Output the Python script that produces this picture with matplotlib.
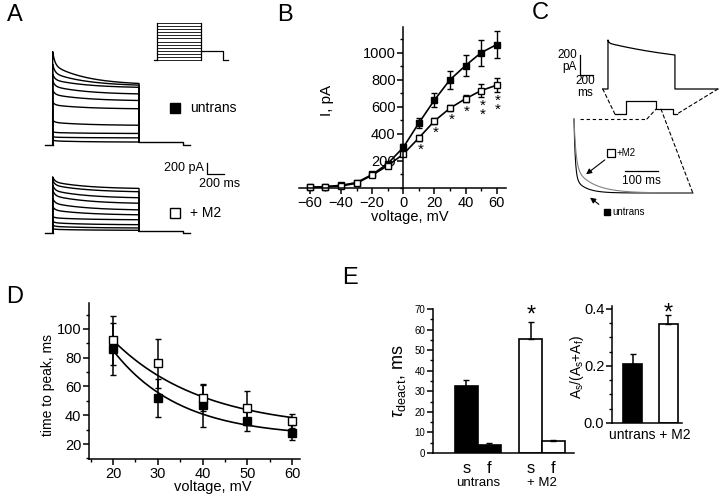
import numpy as np
import matplotlib.pyplot as plt
from matplotlib.patches import ConnectionPatch
from matplotlib.ticker import MultipleLocator

plt.rcParams['font.family'] = ['Liberation Sans', 'DejaVu Sans']
plt.rcParams['mathtext.fontset'] = 'custom'
plt.rcParams['mathtext.rm'] = 'Liberation Sans'
plt.rcParams['mathtext.it'] = 'Liberation Sans:italic'
plt.rcParams['axes.linewidth'] = 1.1

# ---- data ----
# A: current families, pA at start and end of the 1 s step
a_untrans_peak = [1700, 1470, 1290, 1170, 1000, 780, 450, 240, 150, 90]
a_untrans_end = [1120, 1090, 1050, 930, 810, 660, 360, 210, 130, 54]
a_m2_peak = [1020, 960, 870, 780, 630, 480, 300, 210, 140, 78]
a_m2_end = [810, 750, 640, 540, 420, 330, 240, 150, 90, 48]
a_tail = [60, 30]
step_mv = list(range(-60, 61, 10))

# B: I-V
volt_b = list(range(-60, 61, 10))
iv_untrans = [5, 10, 20, 40, 100, 180, 300, 480, 650, 800, 905, 1000, 1060]
iv_untrans_err = [5, 5, 8, 10, 15, 15, 25, 35, 50, 65, 78, 95, 100]
iv_m2 = [5, 10, 15, 35, 95, 165, 250, 370, 495, 590, 660, 720, 760]
iv_m2_err = [5, 5, 5, 8, 10, 10, 15, 20, 20, 20, 27, 45, 50]
stars_b = ['*', '*', '*', '*', '*\n*', '*\n*']

# C: single trace and protocol
c_peak, c_plateau, c_end = 490, 460, 340
c_hold, c_step, c_tailv = -80, 40, -35

# D: time to peak
volt_d = [20, 30, 40, 50, 60]
ttp_untrans = [86, 52, 47, 36, 28]
ttp_untrans_err = [18, 13, 15, 7, 5]
ttp_m2 = [92, 76, 52, 45, 36]
ttp_m2_err = [17, 17, 9, 12, 5]
fit_untrans = (25, 60, 15)   # offset, amplitude, tau
fit_m2 = (30, 62, 20)

# E: deactivation
tau_labels = ['s', 'f', 's', 'f']
tau_vals = [32.5, 4.0, 55.6, 6.0]
tau_err = [3.0, 1.1, 8.1, 0.5]
tau_colors = ['k', 'k', 'white', 'white']
amp_groups = ['untrans', '+ M2']
amp_vals = [0.206, 0.346]
amp_err = [0.036, 0.033]

W, H = 720, 497
fig = plt.figure(figsize=(7.2, 4.97), dpi=100)


def px_axes(x0, y0, x1, y1):
    return fig.add_axes([x0 / W, 1 - y1 / H, (x1 - x0) / W, (y1 - y0) / H])


def style(ax, size):
    for s in ['top', 'right']:
        ax.spines[s].set_visible(False)
    ax.tick_params(which='major', direction='out', length=4, width=1.1, labelsize=size, pad=1.5)
    ax.tick_params(which='minor', direction='out', length=2.5, width=1)


# overlay in pixel coords for labels, on top of everything
ov = fig.add_axes([0, 0, 1, 1])
ov.set_xlim(0, W)
ov.set_ylim(H, 0)
ov.axis('off')
ov.set_zorder(10)

for lab, x, y in [('A', 15, 15), ('B', 285, 15), ('C', 540, 13), ('D', 15, 297), ('E', 350, 278)]:
    ov.text(x, y, lab, fontsize=17, ha='center', va='center')

# ---- A ----
axA = px_axes(40, 15, 240, 245)
axA.set_xlim(-147, 2170)
axA.set_ylim(-1820, 2366)
axA.axis('off')
t = np.linspace(0, 1000, 400)
for peaks, ends, off, tail in [(a_untrans_peak, a_untrans_end, 0, a_tail[0]),
                               (a_m2_peak, a_m2_end, -1600, a_tail[1])]:
    for p, e in zip(peaks, ends):
        g = 0.4 * np.exp(-t / 25) + 0.6 * np.exp(-t / 400)
        g = (g - g[-1]) / (g[0] - g[-1])
        cur = e + (p - e) * g
        axA.plot(np.r_[0, t, 1000], np.r_[0, cur, tail] + off, color='k', lw=1.0)
    axA.plot([-90, 0], [off, off], color='k', lw=1.0)
    axA.plot([1000, 1510, 1510, 1590], np.array([tail, tail, 0, 0]) + off, color='k', lw=1.0)
# scale bar
axA.plot([1788, 1788, 1988], [-328, -528, -528], color='k', lw=0.9)
axA.text(1750, -420, '200 pA', ha='right', va='center', fontsize=9)
axA.text(1690, -710, '200 ms', ha='left', va='center', fontsize=9)

# protocol icon
axP = px_axes(150, 18, 232, 65)
axP.set_xlim(-159, 1705)
axP.set_ylim(-76, 76)
axP.axis('off')
for v in step_mv:
    axP.plot([0, 1000], [v, v], color='k', lw=0.6)
axP.plot([0, 0], [-60, 60], color='k', lw=0.9)
axP.plot([1000, 1000], [-60, 60], color='k', lw=0.9)
axP.plot([-68, 0], [-60, -60], color='k', lw=0.9)
axP.plot([1000, 1500, 1500, 1614], [-30, -30, -60, -60], color='k', lw=0.9)

ov.plot(175, 108, marker='s', ms=7.5, color='k')
ov.text(190, 108, 'untrans', fontsize=10, va='center')
ov.plot(175, 213, marker='s', ms=7.5, mfc='white', mec='k', mew=1)
ov.text(190, 213, '+ M2', fontsize=10, va='center')

# ---- B ----
axB = px_axes(299, 27, 506, 188)
axB.set_xlim(-67, 66)
axB.set_ylim(0, 1190)
style(axB, 10.5)
axB.spines['left'].set_position(('data', 0))
axB.set_xticks(range(-60, 61, 20))
axB.xaxis.set_minor_locator(MultipleLocator(10))
axB.set_yticks(range(200, 1001, 200))
axB.yaxis.set_minor_locator(MultipleLocator(100))
axB.errorbar(volt_b, iv_untrans, yerr=iv_untrans_err, fmt='-s', color='k', mfc='k',
             ms=5, lw=1.2, elinewidth=1, capsize=2.5, clip_on=False)
axB.errorbar(volt_b, iv_m2, yerr=iv_m2_err, fmt='-s', color='k', mfc='white', mec='k',
             ms=5, lw=1.2, elinewidth=1, capsize=2.5, clip_on=False)
for v, m, e, s in zip(volt_b[7:], iv_m2[7:], iv_m2_err[7:], stars_b):
    axB.text(v + 1, m - e - 15, s, ha='center', va='top', fontsize=11, linespacing=0.55)
ov.text(327, 100, 'I, pA', rotation=90, fontsize=11, ha='center', va='center')
ov.text(410, 217, 'voltage, mV', fontsize=10.5, ha='center', va='center')

# ---- C ----
axCt = px_axes(560, 30, 720, 95)
axCt.set_xlim(-738, 1723)
axCt.set_ylim(-60, 590)
axCt.axis('off')
tc = np.linspace(0, 1030, 300)
slow = (np.exp(-tc / 1500) - np.exp(-1030 / 1500)) / (1 - np.exp(-1030 / 1500))
cur_c = c_end + (c_plateau - c_end) * slow + (c_peak - c_plateau) * np.exp(-tc / 15)
axCt.plot(np.r_[-80, 0, tc, 1030, 1690], np.r_[0, 0, cur_c, 0, 0], color='k', lw=0.9)
axCt.plot([-431, -431, -231], [340, 140, 140], color='k', lw=0.9)
axCt.text(-477, 280, '200\npA', ha='right', va='center', fontsize=8.5, linespacing=1.0)
axCt.text(-354, 20, '200\nms', ha='center', va='center', fontsize=8.5, linespacing=1.0)

axCp = px_axes(610, 95, 682, 118)
axCp.set_xlim(-533, 1867)
axCp.set_ylim(-117, 96)
axCp.axis('off')
axCp.plot([-370, 0, 0, 1000, 1000, 1570, 1570, 1700],
          [c_hold, c_hold, c_step, c_step, c_tailv, c_tailv, c_hold, c_hold], color='k', lw=0.9)

# tail-current inset, built from the panel E fit values
ms_px = 0.33
axCi = px_axes(565, 115, 705, 222)
axCi.set_xlim((565 - 574) / ms_px, (705 - 574) / ms_px)
axCi.set_ylim((193 - 222) / 74, (193 - 115) / 74)
axCi.axis('off')
ti = np.linspace(0, 360, 600)
for k, col in [(0, 'k'), (1, '0.5')]:
    a_s = amp_vals[k]
    ts, tf = tau_vals[2 * k], tau_vals[2 * k + 1]
    axCi.plot(ti, a_s * np.exp(-ti / ts) + (1 - a_s) * np.exp(-ti / tf), color=col, lw=0.8)
axCi.plot([18, 221], [1, 1], color='k', lw=0.8, ls=(0, (3, 2.5)))
axCi.plot([155, 255], [0.297, 0.297], color='k', lw=0.9)
axCi.text(205, 0.25, '100 ms', ha='center', va='top', fontsize=8.5)
axCi.plot(112, 0.54, marker='s', ms=5.5, mfc='white', mec='k', mew=0.9)
axCi.text(128, 0.54, '+M2', fontsize=7, va='center')
axCi.annotate('', xy=(30, 0.23), xytext=(100, 0.47),
              arrowprops=dict(arrowstyle='-|>', color='k', lw=0.8, mutation_scale=8))
axCi.plot(100, -0.257, marker='s', ms=4.5, color='k')
axCi.text(116, -0.257, 'untrans', fontsize=7, va='center')
axCi.annotate('', xy=(42, -0.04), xytext=(82, -0.176),
              arrowprops=dict(arrowstyle='-|>', color='k', lw=0.8, mutation_scale=8))

links = [((-80, 0), axCt, (-370, c_hold), axCp),
         ((1690, 0), axCt, (1700, c_hold), axCp),
         ((221, 1), axCi, (1000, c_tailv), axCp),
         ((1167, c_tailv), axCp, (360, 0), axCi)]
for pa, aa, pb, ab in links:
    con = ConnectionPatch(xyA=pa, coordsA=aa.transData, xyB=pb, coordsB=ab.transData,
                          color='k', lw=0.8, ls=(0, (3, 2.5)))
    fig.add_artist(con)

# ---- D ----
axD = px_axes(89, 303, 300, 459)
axD.set_xlim(14.6, 61.8)
axD.set_ylim(9.6, 118)
style(axD, 10.5)
axD.set_xticks(volt_d)
axD.xaxis.set_minor_locator(MultipleLocator(5))
axD.set_yticks(range(20, 101, 20))
axD.yaxis.set_minor_locator(MultipleLocator(10))
vf = np.linspace(20, 60, 200)
for c0, amp, tau in [fit_untrans, fit_m2]:
    axD.plot(vf, c0 + amp * np.exp(-(vf - 20) / tau), color='k', lw=1.2)
axD.errorbar(volt_d, ttp_untrans, yerr=ttp_untrans_err, fmt='s', color='k', mfc='k',
             ms=6, elinewidth=1.1, capsize=2.5)
axD.errorbar(volt_d, ttp_m2, yerr=ttp_m2_err, fmt='s', color='k', mfc='white', mec='k',
             ms=6, elinewidth=1.1, capsize=2.5)
ov.text(48, 385, 'time to peak, ms', rotation=90, fontsize=10, ha='center', va='center')
ov.text(213, 487, 'voltage, mV', fontsize=10.5, ha='center', va='center')

# ---- E ----
axE1 = px_axes(433, 309, 574, 453)
axE1.set_xlim(0, 6.13)
axE1.set_ylim(0, 70)
style(axE1, 7)
axE1.set_xticks([])
axE1.set_yticks(range(0, 71, 10))
axE1.yaxis.set_minor_locator(MultipleLocator(5))
pos_e = [1.45, 2.45, 4.25, 5.22]
axE1.bar(pos_e, tau_vals, width=1, color=tau_colors, edgecolor='k', lw=1.2)
axE1.errorbar(pos_e, tau_vals, yerr=[[0] * 4, tau_err], fmt='none', ecolor='k',
              elinewidth=1.1, capsize=2.5)
for p, s in zip(pos_e, tau_labels):
    axE1.text(p, -7.3, s, ha='center', va='center', fontsize=12)
axE1.text((pos_e[0] + pos_e[1]) / 2, -14.6, amp_groups[0], ha='center', va='center', fontsize=9.5)
axE1.text((pos_e[2] + pos_e[3]) / 2, -14.6, amp_groups[1], ha='center', va='center', fontsize=9.5)
axE1.text(pos_e[2], 64, '*', ha='center', va='baseline', fontsize=17)
ov.text(400, 381, r'$\tau_{\mathrm{deact}}$, ms', rotation=90, fontsize=13, ha='center', va='center')

axE2 = px_axes(612, 306, 682, 423)
axE2.set_xlim(0, 70 / 19)
axE2.set_ylim(0, 0.41)
style(axE2, 10.5)
axE2.set_xticks([])
axE2.set_yticks([0, 0.2, 0.4])
axE2.set_yticklabels(['0.0', '0.2', '0.4'])
axE2.yaxis.set_minor_locator(MultipleLocator(0.05))
pos_a = [1.08, 2.95]
axE2.bar(pos_a, amp_vals, width=1, color=['k', 'white'], edgecolor='k', lw=1.2)
axE2.errorbar(pos_a, amp_vals, yerr=[[0, 0], amp_err], fmt='none', ecolor='k',
              elinewidth=1.1, capsize=2.5)
axE2.text(2.0, -0.042, ' '.join(amp_groups), ha='center', va='center', fontsize=10)
axE2.text(pos_a[1], 0.361, '*', ha='center', va='baseline', fontsize=17)
ov.text(577, 367, r'A$_\mathrm{s}$/(A$_\mathrm{s}$+A$_\mathrm{f}$)', rotation=90, fontsize=10,
        ha='center', va='center')

fig.savefig('out.png', dpi=100)
